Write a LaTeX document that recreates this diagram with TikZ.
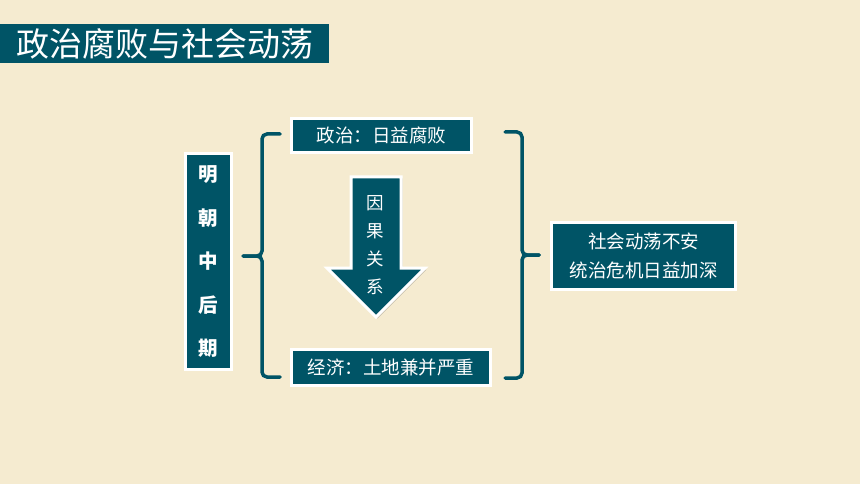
\documentclass[tikz,border=0pt]{standalone}
\usepackage{fontspec}
\setmainfont{Noto Sans CJK SC}
\usetikzlibrary{shadows}
\definecolor{bgc}{RGB}{245,235,208}
\definecolor{teal}{RGB}{0,84,102}
\tikzset{
  box/.style={fill=teal, draw=white, line width=3pt, text=white, inner sep=0pt,
    drop shadow={shadow xshift=1.5pt, shadow yshift=-1.5pt, opacity=0.35, fill=black!60}},
  brace/.style={draw=teal, line width=3.5pt, rounded corners=5pt, line cap=round},
}
\begin{document}
\begin{tikzpicture}[x=1pt,y=-1pt]
\fill[bgc] (0,0) rectangle (860,484);
\useasboundingbox (0,0) rectangle (860,484);
% title
\node[fill=teal, minimum width=329pt, minimum height=39pt, inner sep=0pt, anchor=north west, text=white,
  font=\fontsize{33}{36}\selectfont] (title) at (0,24) {政治腐败与社会动荡};
% left box
\node[box, minimum width=46pt, minimum height=215pt, align=center,
  font=\fontsize{19.5}{43.5}\selectfont\bfseries] (ming) at (208.5,261.5) {明\\朝\\中\\后\\期};
% top box
\node[box, minimum width=180pt, minimum height=34pt, font=\fontsize{18.5}{22}\selectfont] (pol) at (381.5,135.5) {政治：日益腐败};
% bottom box
\node[box, minimum width=199pt, minimum height=36pt, font=\fontsize{18.5}{22}\selectfont] (eco) at (391,367.5) {经济：土地兼并严重};
% right box
\node[box, minimum width=184pt, minimum height=67pt, align=center,
  font=\fontsize{18.5}{29}\selectfont] (soc) at (643.5,256) {社会动荡不安\\统治危机日益加深};
% arrow
\coordinate (a1) at (351,177);
\coordinate (a2) at (401,177);
\coordinate (a3) at (401,268);
\coordinate (a4) at (425,268);
\coordinate (tip) at (376,317);
\coordinate (a6) at (327,268);
\coordinate (a7) at (351,268);
\draw[fill=teal, draw=white, line width=3pt, line join=miter,
  drop shadow={shadow xshift=1.5pt, shadow yshift=-1.5pt, opacity=0.35, fill=black!60}]
  (a1) -- (a2) -- (a3) -- (a4) -- (tip) -- (a6) -- (a7) -- cycle;
\node[text=white, align=center, inner sep=0pt, font=\fontsize{17.5}{28}\selectfont] (cause) at (375,245) {因\\果\\关\\系};
% left brace
\coordinate (lb1) at (280,134);
\coordinate (lb2) at (262,134);
\coordinate (lbm) at (262,256);
\coordinate (lbt) at (243,256);
\coordinate (lb3) at (262,377);
\coordinate (lb4) at (280,377);
\draw[brace] (lb1) -- (lb2) -- (lbm) -- (lbt);
\draw[brace] (lbt) -- (lbm) -- (lb3) -- (lb4);
% right brace
\coordinate (rb1) at (505,132);
\coordinate (rb2) at (522,132);
\coordinate (rbm) at (522,255);
\coordinate (rbt) at (539,255);
\coordinate (rb3) at (522,378);
\coordinate (rb4) at (505,378);
\draw[brace] (rb1) -- (rb2) -- (rbm) -- (rbt);
\draw[brace] (rbt) -- (rbm) -- (rb3) -- (rb4);
\end{tikzpicture}
\end{document}
